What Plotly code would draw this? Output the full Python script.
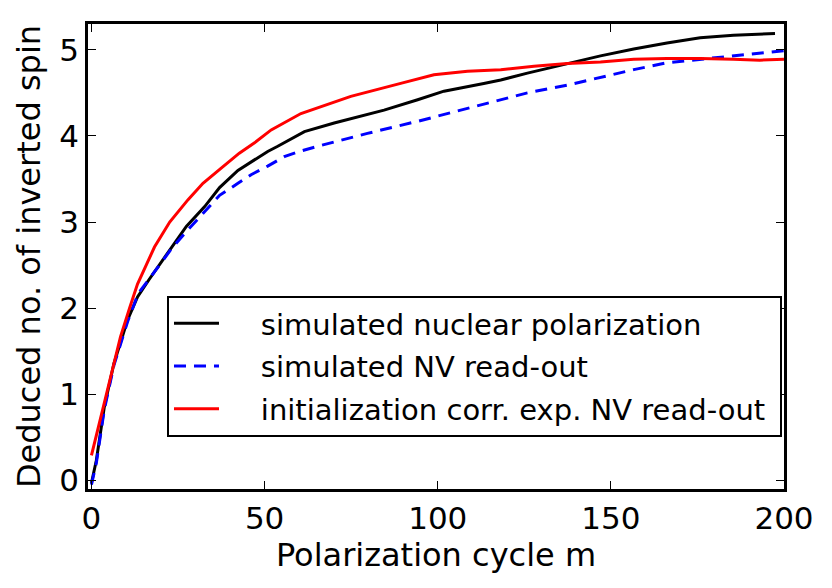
import plotly.graph_objects as go

# Simulated nuclear polarization (black)
m_nuc = [0, 1.4, 3.7, 6.5, 10.4, 13.3, 16.6, 23.1, 27.4, 32.7, 37, 42.3, 46.1, 50.9, 53.8, 61.5, 70.1,
         84.5, 94.2, 101.8, 113.3, 118.2, 125.9, 137.4, 147, 156.6, 166.2, 175.8, 185.4, 197.4]
v_nuc = [-0.03, 0.23, 0.85, 1.36, 1.86, 2.13, 2.33, 2.71, 2.95, 3.18, 3.40, 3.60, 3.70, 3.82, 3.88, 4.05, 4.15,
         4.30, 4.42, 4.52, 4.61, 4.65, 4.73, 4.84, 4.93, 5.01, 5.08, 5.14, 5.17, 5.19]

# Simulated NV read-out (blue dashed)
m_nv = [0, 1.4, 3.7, 6.5, 10.4, 13.5, 17.8, 23.1, 27.4, 32.7, 37, 42.3, 46.1, 50.9, 55.7, 60, 65.3, 79.7,
        94.2, 108.6, 118.2, 125.9, 137.4, 147, 156.6, 166.2, 175.8, 185.4, 197.9, 200]
v_nv = [-0.05, 0.2, 0.82, 1.34, 1.84, 2.17, 2.40, 2.69, 2.89, 3.12, 3.31, 3.45, 3.55, 3.65, 3.76, 3.82, 3.88, 4.03,
        4.17, 4.32, 4.42, 4.50, 4.59, 4.68, 4.77, 4.85, 4.89, 4.93, 4.98, 4.99]

# Initialization corrected experimental NV read-out (red)
m_exp = [0, 4.6, 8.4, 11, 13.3, 18.2, 22.6, 27.9, 32.2, 37.3, 42.7, 47.1, 51.9, 60.5, 74.9, 89.3,
         98.9, 108.6, 118.2, 127.8, 137.4, 147, 156.6, 166.2, 175.8, 185.4, 193, 200]
v_exp = [0.29, 1.05, 1.67, 2.0, 2.28, 2.71, 3.0, 3.26, 3.45, 3.62, 3.80, 3.92, 4.07, 4.26, 4.46, 4.61,
         4.71, 4.75, 4.77, 4.81, 4.84, 4.86, 4.89, 4.90, 4.90, 4.89, 4.88, 4.89]

x_ticks = [0, 50, 100, 150, 200]
y_ticks = [0, 1, 2, 3, 4, 5]

labels = ["simulated nuclear polarization",
          "simulated NV read-out",
          "initialization corr. exp. NV read-out"]

FONT = "DejaVu Sans"
NB = "\u00a0"
pad_left = NB * 4


def lab(s, extra=0):
    return pad_left + s + NB * extra


fig = go.Figure()
fig.add_trace(go.Scatter(x=m_nuc, y=v_nuc, mode="lines", name=lab(labels[0]), legendgroup="a",
                         line=dict(color="black", width=3)))
fig.add_trace(go.Scatter(x=m_nv, y=v_nv, mode="lines", name=lab(labels[1]), legendgroup="b",
                         line=dict(color="#0000ff", width=3, dash="12px,8px")))
fig.add_trace(go.Scatter(x=m_exp, y=v_exp, mode="lines", name=lab(labels[2], 1), legendgroup="c",
                         line=dict(color="#ff0000", width=3)))

axis_common = dict(showgrid=False, zeroline=False, showline=True, linecolor="black", linewidth=2.5,
                   mirror="ticks", ticks="inside", ticklen=8, tickwidth=1.2, tickcolor="black",
                   tickfont=dict(family=FONT, size=31, color="black"))

fig.update_xaxes(range=[-1, 200], tickvals=x_ticks,
                 title=dict(text="Polarization cycle m", font=dict(family=FONT, size=32, color="black"), standoff=8),
                 **axis_common)
fig.update_yaxes(range=[-0.1, 5.3], tickvals=y_ticks,
                 title=dict(text="Deduced no. of inverted spin", font=dict(family=FONT, size=32, color="black"), standoff=10),
                 **axis_common)

fig.update_layout(
    width=832, height=588,
    margin=dict(l=88, r=48, t=24, b=99),
    plot_bgcolor="white", paper_bgcolor="white",
    font=dict(family=FONT, color="black"),
    legend=dict(x=0.1135, y=0.4151, xanchor="left", yanchor="top",
                bgcolor="white", bordercolor="black", borderwidth=2,
                font=dict(family=FONT, size=29, color="black"),
                itemwidth=45, tracegroupgap=2),
)

fig.write_html("out.html")
